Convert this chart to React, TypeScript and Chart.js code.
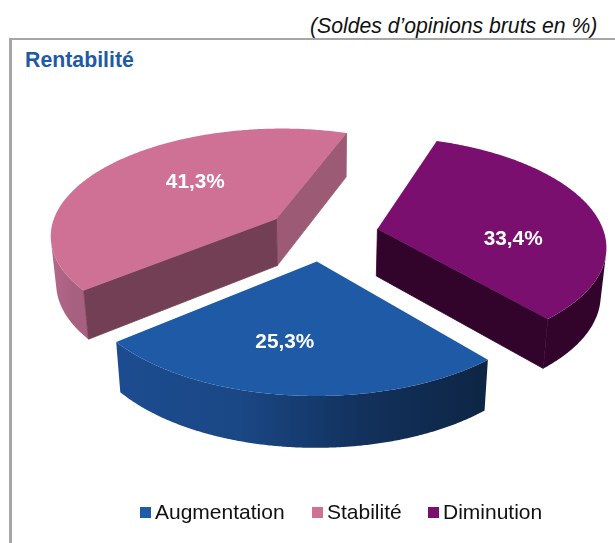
import React, { useEffect, useRef } from "react";
import { Chart, registerables } from "chart.js";

Chart.register(...registerables);

const categories = ["Augmentation", "Stabilité", "Diminution"];
const values = [25.3, 41.3, 33.4];
const valueLabels = ["25,3%", "41,3%", "33,4%"];
const topColors = ["#1F5AA6", "#CE7195", "#7B0F70"];
const frontWallColors = ["#12315C", "#733F55", "#32042C"];
const backWallColors = ["#12315C", "#9C5A75", "#32042C"];
const rimStops = [
  ["#1C4C90", "#1A4785", "#12315C", "#0E2544"],
  ["#B5688A", "#AE6486", "#A86080", "#A86080"],
  ["#32042C", "#32042C", "#32042C", "#32042C"],
];

// perspective projection style
const CX = 322, CY = 234, R = 227, K = 107, P = 0.14, EXPLODE = 0.25;
const labelNudge = [[-20.5, 19], [5, -8], [27, 20]];
const FONT = '"Liberation Sans", Arial, sans-serif';

const project = (X: number, Y: number): [number, number] => {
  const w = 1 - P * Y;
  return [CX + (R * X) / w, CY + (K * Y) / w];
};
const under = (x: number, y: number): [number, number] => [
  CX + (x - CX) * 0.98,
  y + 44 + (y - 134) * 0.03,
];

const pie3d = {
  id: "pie3d",
  beforeDatasetDraw(chart: any) {
    const ctx: CanvasRenderingContext2D = chart.ctx;
    const arcs = chart.getDatasetMeta(0).data as any[];
    const geo = arcs.map((a) => {
      const mid = (a.startAngle + a.endAngle) / 2;
      const ex = Math.cos(mid) * EXPLODE;
      const ey = Math.sin(mid) * EXPLODE;
      const apex = project(ex, ey);
      const pt = (t: number, f = 1) => project(ex + f * Math.cos(t), ey + f * Math.sin(t));
      return { a, mid, apex, pt };
    });

    const order = [1, 2, 0];
    for (const i of order) {
      const g = geo[i];
      const { startAngle: s, endAngle: e } = g.a;
      const tops: [number, number][] = [];
      const N = 240;
      for (let k = 0; k <= N; k++) {
        const t = s + ((e - s) * k) / N;
        const p = g.pt(t);
        const p2 = g.pt(t + 0.001);
        const q = under(p[0], p[1]);
        // keep the part of the rim turned to the viewer (up to the silhouette)
        const cross = (p2[0] - p[0]) * (q[1] - p[1]) - (p2[1] - p[1]) * (q[0] - p[0]);
        if (cross < 0) tops.push(p);
      }
      if (tops.length > 1) {
        const xs = tops.map((p) => p[0]);
        const grad = ctx.createLinearGradient(Math.min(...xs), 0, Math.max(...xs), 0);
        rimStops[i].forEach((c, n) => grad.addColorStop(n / (rimStops[i].length - 1), c));
        ctx.beginPath();
        tops.forEach((p, n) => (n ? ctx.lineTo(p[0], p[1]) : ctx.moveTo(p[0], p[1])));
        [...tops].reverse().forEach((p) => {
          const q = under(p[0], p[1]);
          ctx.lineTo(q[0], q[1]);
        });
        ctx.closePath();
        ctx.fillStyle = grad;
        ctx.fill();
      }
      const wall = (t: number, color: string) => {
        const p = g.pt(t);
        const q = under(p[0], p[1]);
        const r = under(g.apex[0], g.apex[1]);
        ctx.beginPath();
        ctx.moveTo(g.apex[0], g.apex[1]);
        ctx.lineTo(p[0], p[1]);
        ctx.lineTo(q[0], q[1]);
        ctx.lineTo(r[0], r[1]);
        ctx.closePath();
        ctx.fillStyle = color;
        ctx.fill();
        ctx.strokeStyle = color;
        ctx.lineWidth = 0.8;
        ctx.stroke();
      };
      if (Math.sin(e + Math.PI / 2) > 0) wall(e, backWallColors[i]);
      if (Math.sin(s - Math.PI / 2) > 0) wall(s, frontWallColors[i]);
    }

    // top faces from the library's arc angles and colours
    for (const g of geo) {
      const { startAngle: s, endAngle: e } = g.a;
      ctx.beginPath();
      ctx.moveTo(g.apex[0], g.apex[1]);
      const N = 240;
      for (let k = 0; k <= N; k++) {
        const p = g.pt(s + ((e - s) * k) / N);
        ctx.lineTo(p[0], p[1]);
      }
      ctx.closePath();
      ctx.fillStyle = g.a.options.backgroundColor;
      ctx.fill();
    }

    ctx.save();
    ctx.font = `bold 20.8px ${FONT}`;
    ctx.fillStyle = "#FFFFFF";
    ctx.textAlign = "center";
    ctx.textBaseline = "middle";
    geo.forEach((g, i) => {
      const p = g.pt(g.mid, 0.5);
      ctx.fillText(valueLabels[i], p[0] + labelNudge[i][0], p[1] + labelNudge[i][1]);
    });
    ctx.restore();
    return false;
  },
};

const textBase: React.CSSProperties = {
  position: "absolute",
  fontFamily: FONT,
  whiteSpace: "nowrap",
  lineHeight: "24px",
};

const legendLeft = [140, 312, 428];

export default function App() {
  const ref = useRef<HTMLCanvasElement>(null);
  useEffect(() => {
    const chart = new Chart(ref.current!, {
      type: "pie",
      data: {
        labels: categories,
        datasets: [{ data: values, backgroundColor: topColors, borderWidth: 0 }],
      },
      options: {
        responsive: false,
        animation: false,
        rotation: 139.5,
        plugins: { legend: { display: false }, tooltip: { enabled: false } },
      },
      plugins: [pie3d],
    } as any);
    return () => chart.destroy();
  }, []);
  return (
    <div style={{ position: "absolute", left: 0, top: 0, width: 615, height: 543, overflow: "hidden", background: "#fff" }}>
      <div style={{ position: "absolute", left: 9, top: 38, right: 0, height: 2, background: "#A6A6A6" }} />
      <div style={{ position: "absolute", left: 9, top: 38, bottom: 0, width: 3, background: "#A6A6A6" }} />
      <div style={{ ...textBase, left: 310, top: 14, fontSize: 21.2, fontStyle: "italic", color: "#111" }}>(Soldes d’opinions bruts en %)</div>
      <div style={{ ...textBase, left: 25, top: 48, fontSize: 21.3, fontWeight: 700, color: "#1F5AA6" }}>Rentabilité</div>
      <canvas ref={ref} width={615} height={543} style={{ position: "absolute", left: 0, top: 0 }} />
      {categories.map((c, i) => (
        <React.Fragment key={c}>
          <div style={{ position: "absolute", left: legendLeft[i], top: 507, width: 11, height: 11, background: topColors[i] }} />
          <div style={{ ...textBase, left: legendLeft[i] + 15, top: 500, fontSize: 21, color: "#111" }}>{c}</div>
        </React.Fragment>
      ))}
    </div>
  );
}
